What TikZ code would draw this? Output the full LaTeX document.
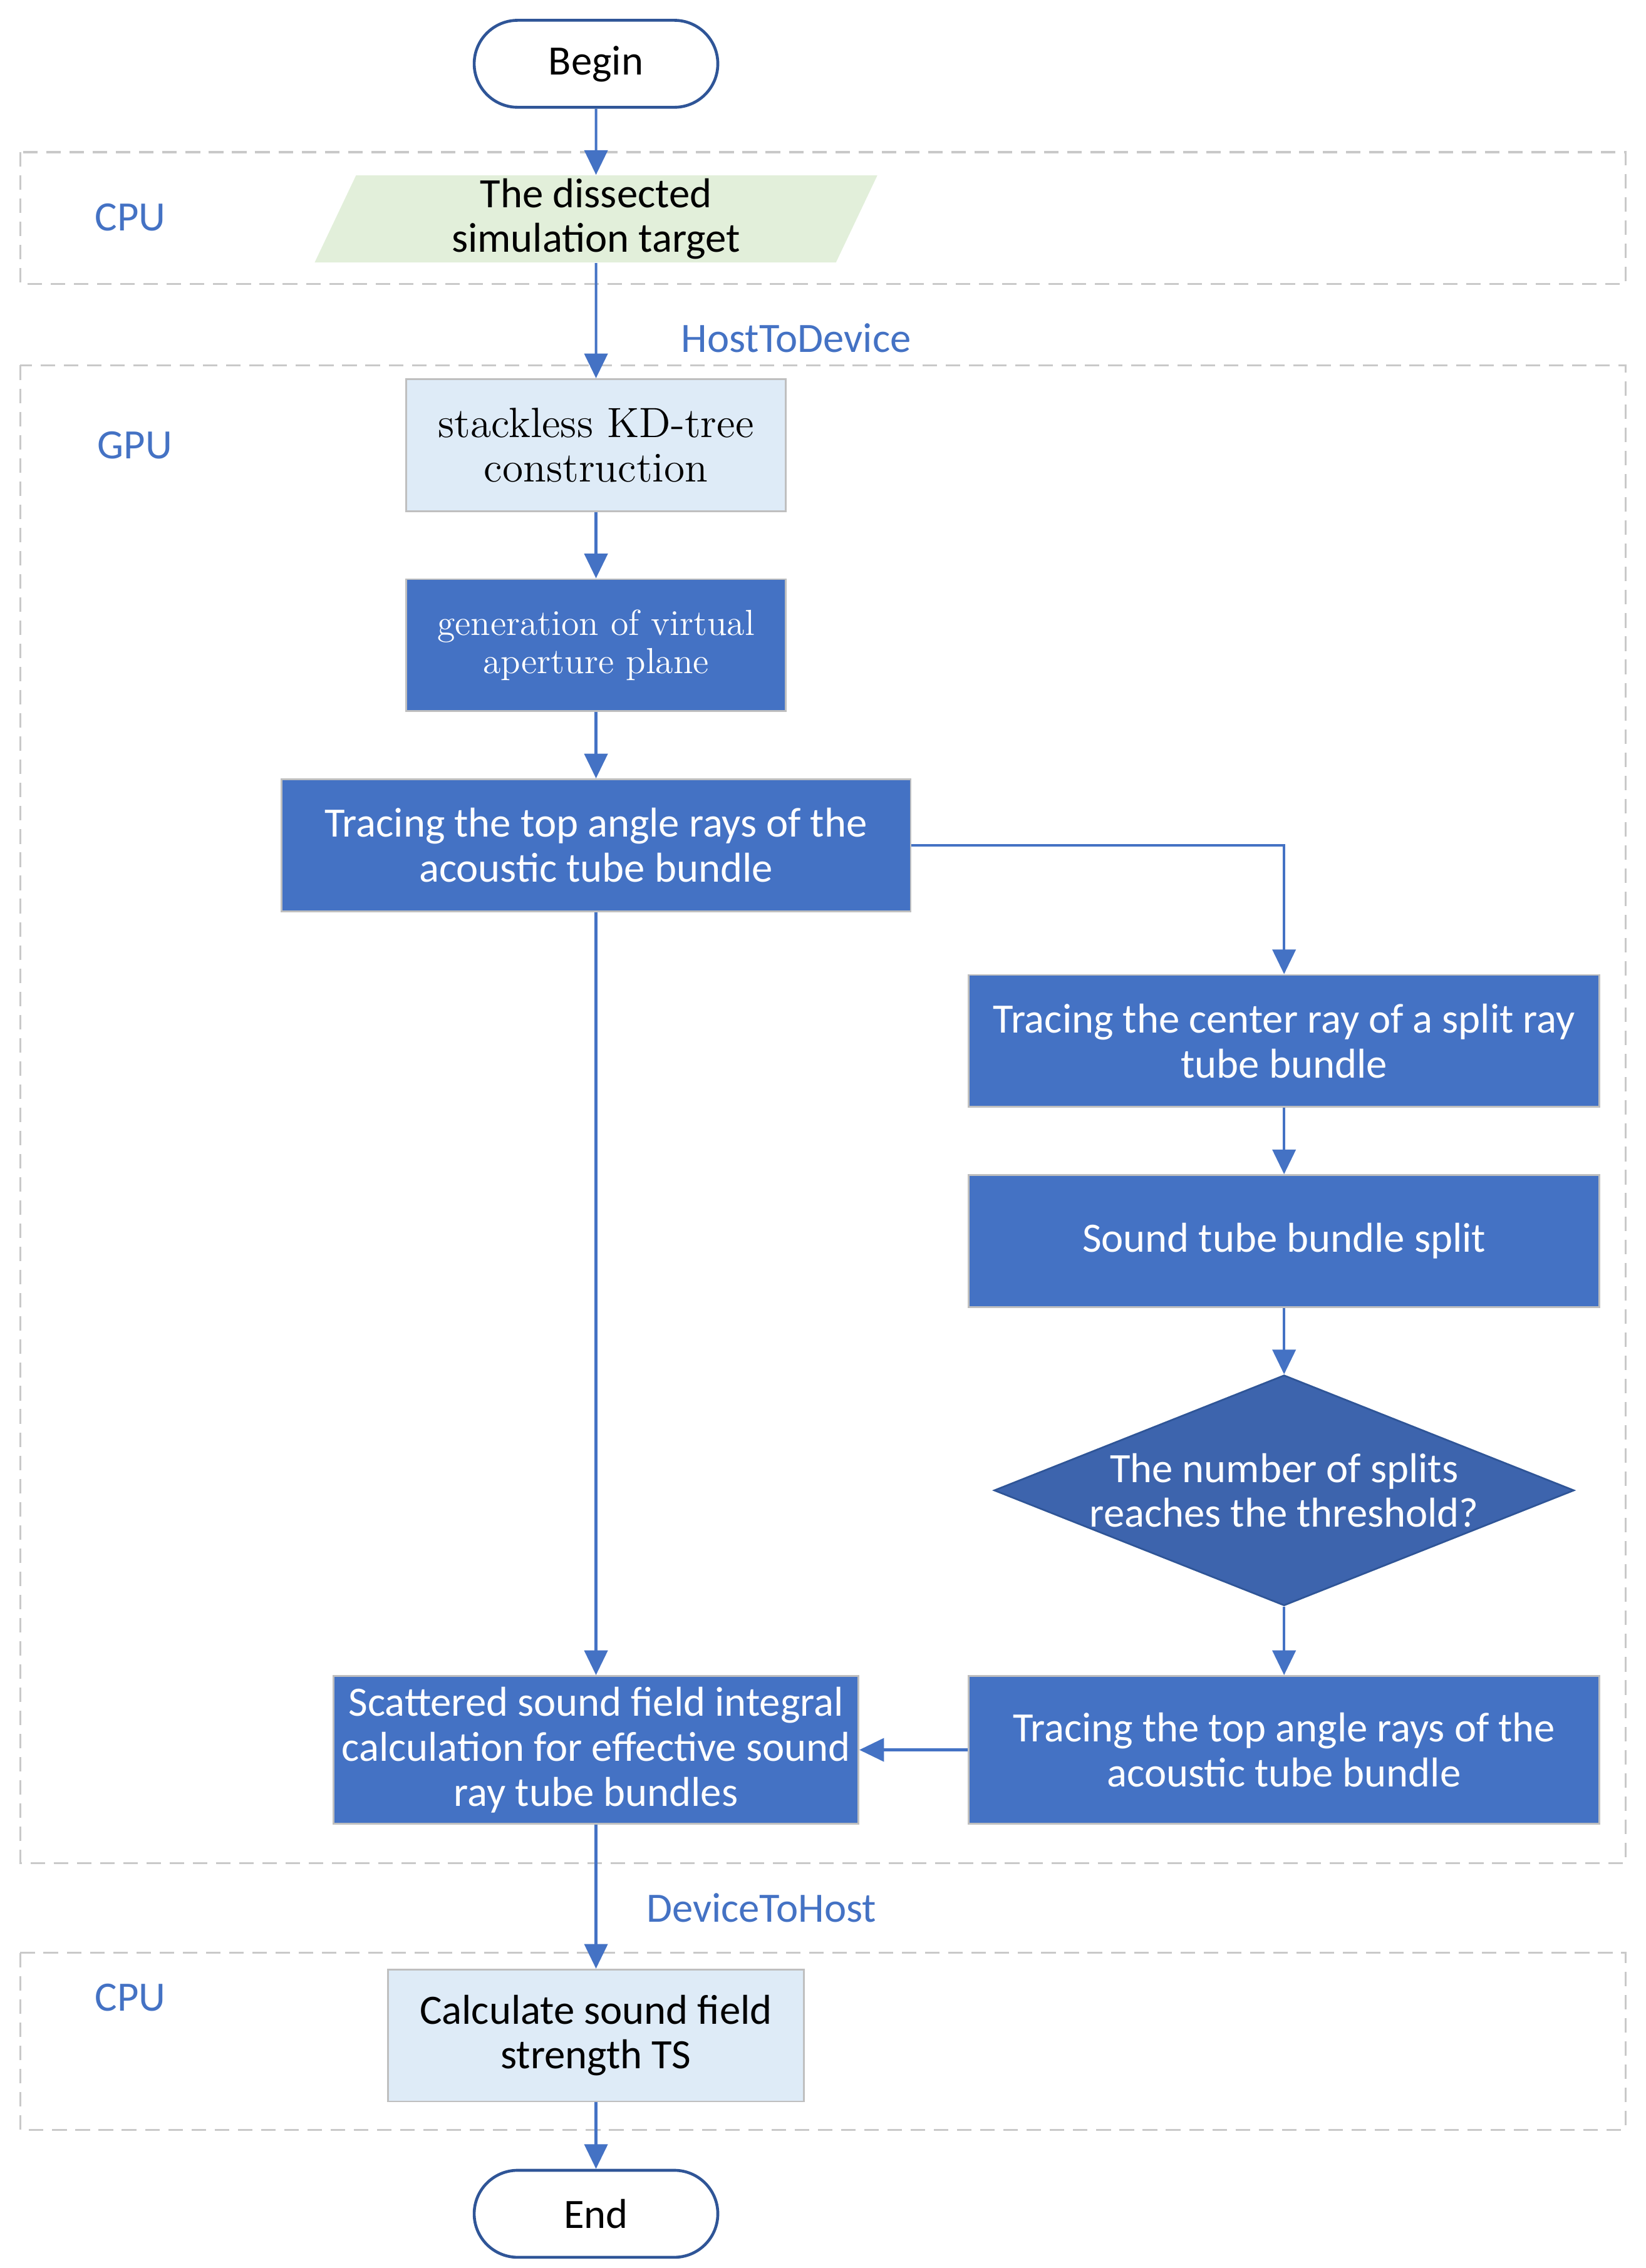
\documentclass[tikz,border=0pt]{standalone}
\usepackage{fontspec}
\setsansfont{Carlito}
\usetikzlibrary{positioning, shapes.geometric, arrows.meta}

\definecolor{boxblue}{HTML}{4472C4}
\definecolor{darkblue}{HTML}{2F5597}
\definecolor{decblue}{HTML}{3D64AD}
\definecolor{paleblue}{HTML}{DEEBF7}
\definecolor{palegreen}{HTML}{E2EFDA}
\definecolor{boxgray}{HTML}{BFBFBF}
\definecolor{lanegray}{HTML}{C9C9C9}

\begin{document}
\begin{tikzpicture}[x=0.5pt,y=-0.5pt,on grid,
    font=\sffamily\fontsize{14.4}{15.5}\selectfont,
    every node/.append style={align=center},
    flow/.style={-{Triangle[width=8pt,length=8.5pt]},color=boxblue,line width=0.9pt},
    lane/.style={draw=lanegray,dash pattern=on 5pt off 3pt,line width=0.7pt},
    lanelabel/.style={text=boxblue},
    terminal/.style={draw=darkblue,line width=1pt,rounded corners=15pt,minimum width=84pt,minimum height=30pt},
    data/.style={trapezium,trapezium left angle=63,trapezium right angle=117,trapezium stretches body,
      fill=palegreen,minimum width=194pt,minimum height=30pt,inner sep=0pt},
    lightbox/.style={draw=boxgray,fill=paleblue,minimum height=45.5pt,line width=0.6pt},
    bluebox/.style={draw=boxgray,fill=boxblue,text=white,minimum width=217.5pt,minimum height=45.5pt,
      inner sep=2pt,line width=0.6pt},
    decision/.style={diamond,draw=darkblue,fill=decblue,text=white,minimum width=200pt,
      minimum height=79.5pt,inner sep=0pt,line width=0.6pt},
    serifbig/.style={font=\rmfamily\fontsize{14.6}{15.5}\selectfont},
    serifsmall/.style={font=\rmfamily\fontsize{12.5}{13}\selectfont}]
  \useasboundingbox (0,0) rectangle (1135,1564.4);

  % lanes
  \draw[lane] (14,105) rectangle (1121,196);
  \draw[lane] (14,252) rectangle (1121,1285);
  \draw[lane] (14,1347) rectangle (1121,1469);
  \node[lanelabel] (cpuin) at (90,150) {CPU};
  \node[lanelabel] (gpu) at (93,307) {GPU};
  \node[lanelabel] (cpuout) at (90,1378) {CPU};
  \node[lanelabel] (htod) at (549,233) {HostToDevice};
  \node[lanelabel] (dtoh) at (525,1316) {DeviceToHost};

  % main column
  \node[terminal] (begin) at (411,44) {Begin};
  \node[data] (target) [below=53.5pt of begin] {The dissected\\simulation target};
  \node[lightbox,serifbig,minimum width=131pt] (kdtree) [below=78pt of target] {stackless KD-tree\\construction};
  \node[bluebox,serifsmall,minimum width=131pt] (aperture) [below=69pt of kdtree] {generation of virtual\\aperture plane};
  \node[bluebox,minimum width=217pt] (toprays) [below=69pt of aperture] {Tracing the top angle rays of the\\acoustic tube bundle};

  % split branch
  \node[bluebox] (centerray) [below right=67.5pt and 237.25pt of toprays] {Tracing the center ray of a split ray\\tube bundle};
  \node[bluebox] (split) [below=69pt of centerray] {Sound tube bundle split};
  \node[decision] (thresh) [below=86pt of split] {\makebox[0pt]{The number of splits}\\\makebox[0pt]{reaches the threshold?}};
  \node[bluebox,minimum height=51pt] (toprays2) [below=89.5pt of thresh] {Tracing the top angle rays of the\\acoustic tube bundle};

  \node[bluebox,minimum width=181pt,minimum height=51pt] (scatter) [left=237.25pt of toprays2] {Scattered sound field integral\\calculation for effective sound\\ray tube bundles};
  \node[lightbox,minimum width=143.5pt] (tsvalue) [below=98.5pt of scatter] {Calculate sound field\\strength TS};
  \node[terminal] (end) [below=61.5pt of tsvalue] {End};

  \path[flow]
    (begin) edge (target)
    (target) edge (kdtree)
    (kdtree) edge (aperture)
    (aperture) edge (toprays)
    (toprays) edge (scatter)
    (centerray) edge (split)
    (split) edge (thresh)
    (thresh) edge (toprays2)
    (toprays2) edge (scatter)
    (scatter) edge (tsvalue)
    (tsvalue) edge (end);
  \draw[flow] (toprays.east) -| (centerray.north);
\end{tikzpicture}
\end{document}
